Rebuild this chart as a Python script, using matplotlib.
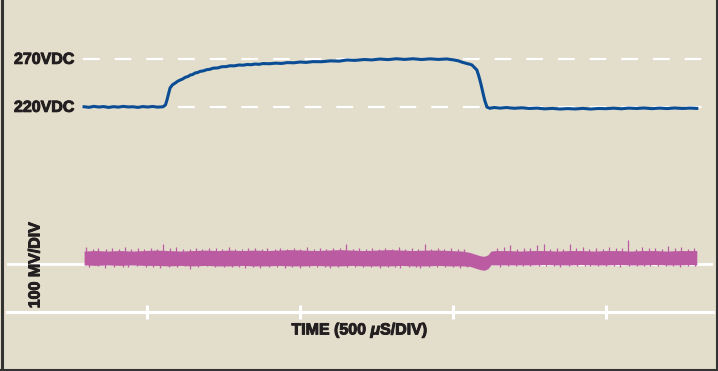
import matplotlib
matplotlib.use("Agg")
import matplotlib.pyplot as plt
from matplotlib.lines import Line2D
import matplotlib.patheffects as pe

plt.rcParams['font.family'] = ['Liberation Sans', 'DejaVu Sans']
plt.rcParams['font.weight'] = 'bold'
plt.rcParams['mathtext.fontset'] = 'custom'
plt.rcParams['mathtext.rm'] = 'Liberation Sans:bold'
plt.rcParams['mathtext.it'] = 'Liberation Sans:italic:bold'
plt.rcParams['lines.scale_dashes'] = False

# bus voltage trace (time in us, volts)
bus_t = [294, 310, 326, 342, 358, 374, 390, 406, 422, 438, 454, 470, 486, 502,
         518, 534, 552, 560, 565, 570, 575, 583, 592, 600, 608, 616, 625, 633,
         641, 649, 657, 665, 673, 684, 695, 705, 716, 730, 745, 758, 771, 785,
         800, 814, 827, 840, 853, 866, 879, 900, 920, 940, 958, 980, 1000, 1020,
         1042, 1070, 1100, 1127, 1154, 1180, 1210, 1235, 1261, 1288, 1315, 1342,
         1369, 1397, 1425, 1452, 1480, 1490, 1500, 1510, 1518, 1526, 1533, 1541,
         1548, 1555, 1562, 1570, 1578, 1584, 1588, 1593, 1598, 1604, 1611, 1620,
         1635, 1654, 1675, 1700, 1725, 1750, 1775, 1800, 1825, 1850, 1875, 1900,
         1925, 1950, 1975, 2000, 2025, 2050, 2075, 2100, 2125, 2150, 2175, 2200,
         2225, 2250, 2275, 2297]
bus_v = [220.6, 220.0, 221.0, 220.3, 220.8, 219.9, 220.7, 220.2, 221.0, 220.4,
         220.6, 219.9, 220.8, 220.3, 220.9, 220.2, 220.6, 222.5, 227.6, 234.0,
         240.1, 243.5, 245.3, 247.2, 248.4, 249.5, 251.3, 252.0, 253.6, 254.2,
         255.8, 256.2, 257.4, 258.0, 259.2, 259.6, 260.8, 261.0, 262.3, 262.4,
         263.3, 263.2, 264.1, 263.9, 264.6, 264.4, 265.1, 264.8, 265.6, 265.4,
         266.0, 265.7, 266.6, 266.4, 267.2, 266.8, 267.6, 267.5, 268.4, 268.1,
         269.3, 268.9, 269.8, 269.4, 270.3, 269.7, 270.6, 269.9, 270.6, 269.8,
         270.5, 269.9, 270.4, 269.9, 269.5, 268.9, 268.4, 267.4, 266.7, 266.0,
         265.4, 264.9, 264.1, 261.5, 258.9, 253.0, 248.4, 242.0, 234.9, 227.0,
         220.3, 219.0, 219.8, 219.2, 219.8, 219.0, 219.5, 218.8, 219.2, 218.4,
         218.9, 218.2, 218.7, 218.3, 218.9, 218.2, 218.8, 218.6, 219.1, 218.5,
         219.2, 218.8, 219.3, 218.6, 219.2, 218.7, 219.3, 218.8, 219.2, 218.9]

# ripple band envelope (time in us, mV)
rip_t = [294, 330, 370, 410, 450, 490, 530, 570, 610, 650, 690, 730, 770, 810,
         850, 890, 930, 970, 1010, 1050, 1090, 1130, 1170, 1210, 1250, 1290,
         1330, 1370, 1410, 1450, 1490, 1530, 1556, 1575, 1590, 1602, 1614, 1624,
         1640, 1680, 1720, 1760, 1800, 1840, 1880, 1920, 1960, 2000, 2040, 2080,
         2120, 2160, 2200, 2240, 2280, 2297]
rip_hi = [28, 29, 28, 29, 28, 29, 30, 29, 28, 29, 30, 29, 30, 29, 30, 29, 30,
          31, 30, 29, 30, 31, 30, 29, 30, 31, 30, 29, 30, 30, 29, 28, 25, 21,
          18, 17, 20, 28, 29, 29, 28, 29, 29, 28, 29, 29, 28, 29, 29, 28, 29,
          29, 28, 29, 29, 29]
rip_lo = [-1, -2, -1, -2, -1, -2, -2, -3, -2, -3, -2, -3, -3, -2, -3, -3, -2,
          -3, -3, -2, -3, -3, -2, -3, -3, -3, -2, -3, -3, -2, -3, -3, -4, -8,
          -11, -12, -9, -1, -1, -1, -1, -1, 0, -1, -1, 0, -1, -1, 0, -1, -1,
          0, -1, -1, 0, -1]

# ripple spikes above the band
spk_up_t = [300, 322, 341, 365, 384, 407, 428, 446, 470, 489,
            512, 531, 553, 575, 596, 616, 640, 661, 680, 703,
            724, 745, 768, 787, 810, 831, 852, 874, 893, 917,
            936, 958, 979, 1001, 1022, 1044, 1066, 1085, 1108, 1129,
            1150, 1172, 1193, 1215, 1236, 1257, 1279, 1300, 1322, 1344,
            1365, 1386, 1408, 1429, 1451, 1472, 1494, 1515, 1537, 1645,
            1667, 1688, 1710, 1731, 1753, 1774, 1796, 1817, 1839, 1860,
            1882, 1903, 1925, 1946, 1968, 1989, 2011, 2032, 2054, 2072,
            2097, 2118, 2140, 2161, 2183, 2204, 2226, 2247, 2269, 2288]
spk_up_v = [37, 33, 35, 32, 34, 33, 36, 32, 34, 33,
            35, 32, 43, 34, 37, 33, 33, 35, 32, 34,
            35, 33, 36, 32, 33, 35, 34, 32, 35, 33,
            34, 32, 35, 33, 36, 33, 34, 32, 35, 34,
            42, 33, 34, 32, 35, 33, 34, 32, 37, 33,
            34, 32, 43, 33, 35, 32, 34, 33, 32, 35,
            36, 41, 33, 35, 34, 41, 43, 33, 35, 33,
            42, 34, 36, 33, 35, 33, 37, 34, 35, 52,
            33, 36, 34, 35, 33, 39, 34, 36, 33, 34]

# ripple spikes below the band
spk_dn_t = [310, 338, 363, 392, 420, 438, 466, 495, 520, 542,
            570, 598, 625, 641, 668, 697, 722, 750, 776, 800,
            820, 846, 869, 897, 925, 951, 975, 1000, 1028, 1055,
            1080, 1098, 1125, 1152, 1180, 1205, 1232, 1261, 1287, 1310,
            1327, 1355, 1380, 1392, 1420, 1448, 1474, 1500, 1523, 1545,
            1654, 1680, 1706, 1730, 1752, 1780, 1805, 1830, 1850, 1878,
            1905, 1930, 1948, 1975, 2000, 2025, 2046, 2075, 2100, 2125,
            2144, 2170, 2195, 2220, 2242, 2268, 2290]
spk_dn_v = [-5, -4, -8, -5, -6, -6, -4, -5, -6, -7,
            -5, -6, -4, -9, -5, -4, -6, -5, -6, -5,
            -7, -5, -8, -6, -5, -7, -6, -8, -5, -6,
            -5, -7, -6, -5, -6, -5, -6, -8, -5, -6,
            -8, -5, -6, -7, -5, -6, -6, -5, -7, -6,
            -5, -3, -4, -3, -4, -3, -4, -3, -5, -3,
            -4, -3, -4, -3, -4, -3, -5, -3, -4, -3,
            -4, -3, -4, -3, -5, -3, -4]

ticks_t = [500, 1000, 1500, 2000]
ref_levels = [220, 270]
ref_labels = ['220VDC', '270VDC']

bg = '#e3decc'
blue = '#0a4d94'
pink = '#bb5ca3'
ink = '#231f20'
heavy = [pe.withStroke(linewidth=0.7, foreground=ink)]

fig = plt.figure(figsize=(7.18, 3.71), dpi=100, facecolor=bg)
rect = [7 / 718, 59 / 371, 706 / 718, 312 / 371]
ax = fig.add_axes(rect)
ax.set_facecolor('none')
ax2 = fig.add_axes(rect, sharex=ax)
ax2.set_facecolor('none')

ax.set_xlim(42, 2350)
ax.set_ylim(6.8, 331.8)
ax2.set_ylim(-99, 551)

for lvl in ref_levels:
    ax.plot([291, 2350], [lvl, lvl], color='white', lw=1.5,
            dashes=(12, 10.8), zorder=1)
ax.plot(bus_t, bus_v, color=blue, lw=2.2, zorder=3)

for lvl, lab in zip(ref_levels, ref_labels):
    ax.text(0.0099, lvl, lab, transform=ax.get_yaxis_transform(),
            ha='left', va='center', fontsize=11.5, fontweight='bold',
            color=ink, path_effects=heavy)

ax2.axhline(0, color='white', lw=2.0, zorder=1)
ax2.fill_between(rip_t, rip_lo, rip_hi, color=pink, lw=0, zorder=2)
ax2.vlines(spk_up_t, 20, spk_up_v, color=pink, lw=0.9, zorder=2)
ax2.vlines(spk_dn_t, 5, spk_dn_v, color=pink, lw=0.9, zorder=2)

for a in (ax, ax2):
    for s in ('top', 'left', 'right'):
        a.spines[s].set_visible(False)
    a.set_yticks([])
ax2.spines['bottom'].set_visible(False)
ax2.tick_params(axis='x', bottom=False, labelbottom=False)

ax.spines['bottom'].set_color('white')
ax.spines['bottom'].set_linewidth(2.2)
ax.set_xticks(ticks_t)
ax.tick_params(axis='x', direction='inout', length=10, width=2.2,
               color='white', labelbottom=False)

fig.text(360 / 718, 1 - 330 / 371, 'TIME (500 $\\mu$S/DIV)', ha='center',
         va='center', fontsize=11.5, fontweight='bold', color=ink,
         path_effects=heavy)
fig.text(35 / 718, 1 - 265 / 371, '100 MV/DIV', rotation=90, ha='center',
         va='center', fontsize=11.5, fontweight='bold', color=ink,
         path_effects=heavy)

# dark frame on left, right and bottom edges
fig.add_artist(Line2D([1.5 / 718, 1.5 / 718], [0, 1], color='#333333', lw=2.2))
fig.add_artist(Line2D([717 / 718, 717 / 718], [0, 1], color='#333333', lw=1.5))
fig.add_artist(Line2D([0, 1], [1 / 371, 1 / 371], color='#333333', lw=1.5))

fig.savefig('out.png', dpi=100, facecolor=bg)
